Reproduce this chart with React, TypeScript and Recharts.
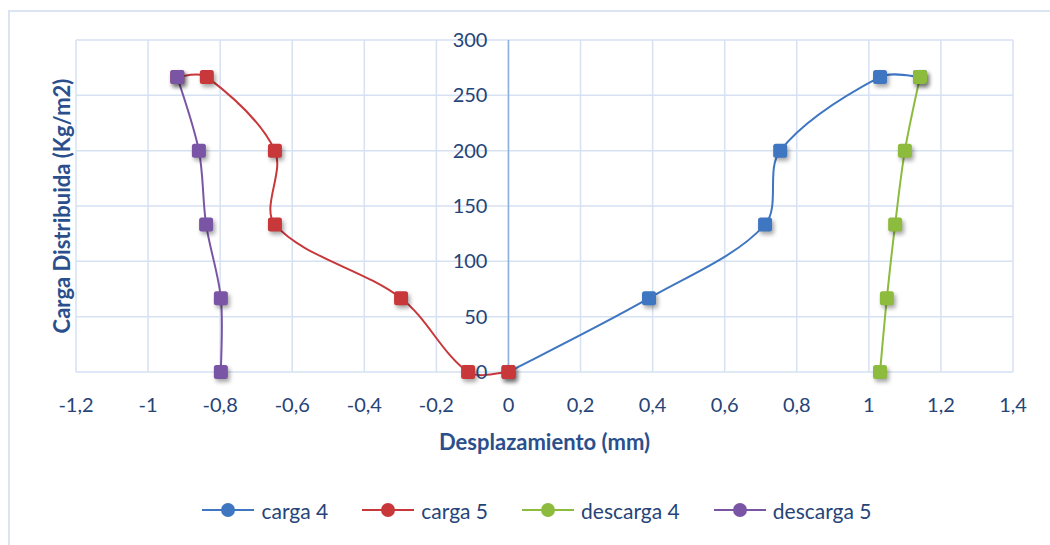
import React from 'react';
import { ComposedChart, Line, XAxis, YAxis, CartesianGrid, ReferenceLine, Label } from 'recharts';

const loadLevels = [0, 66.67, 133.33, 200, 266.67];
const carga4X = [0, 0.39, 0.712, 0.754, 1.031, 1.142];
const carga4Y = [0, 66.67, 133.33, 200, 266.67, 266.67];
const carga5X = [0, -0.112, -0.298, -0.648, -0.648, -0.837, -0.919];
const carga5Y = [0, 0, 66.67, 133.33, 200, 266.67, 266.67];
const descarga4X = [1.031, 1.05, 1.073, 1.1, 1.142];
const descarga5X = [-0.798, -0.798, -0.839, -0.859, -0.919];

const xTicks = [-1.2, -1, -0.8, -0.6, -0.4, -0.2, 0, 0.2, 0.4, 0.6, 0.8, 1, 1.2, 1.4];
const yTicks = [0, 50, 100, 150, 200, 250, 300];
const X_MIN = -1.2;
const X_MAX = 1.4;

const toPoints = (xs: number[], ys: number[]) => xs.map((x, i) => ({ x, y: ys[i] }));

const series = [
  { name: 'carga 4', color: '#3f76c2', data: toPoints(carga4X, carga4Y) },
  { name: 'carga 5', color: '#c8373a', data: toPoints(carga5X, carga5Y) },
  { name: 'descarga 4', color: '#8dbb3e', data: toPoints(descarga4X, loadLevels) },
  { name: 'descarga 5', color: '#7a55a5', data: toPoints(descarga5X, loadLevels) },
];

// Excel-like smoothing: bezier with tangents weighted by segment lengths
function excelCurve(context: any) {
  let pts: number[][] = [];
  const dist = (a: number[], b: number[]) => Math.hypot(b[0] - a[0], b[1] - a[1]);
  return {
    areaStart() {},
    areaEnd() {},
    lineStart() {
      pts = [];
    },
    lineEnd() {
      const n = pts.length;
      if (!n) return;
      context.moveTo(pts[0][0], pts[0][1]);
      for (let i = 0; i < n - 1; i++) {
        const p0 = pts[Math.max(i - 1, 0)];
        const p1 = pts[i];
        const p2 = pts[i + 1];
        const p3 = pts[Math.min(i + 2, n - 1)];
        const d01 = dist(p0, p1);
        const d12 = dist(p1, p2);
        const d23 = dist(p2, p3);
        const f1 = d01 + d12 > 0 ? d12 / (d01 + d12) / 3 : 0;
        const f2 = d12 + d23 > 0 ? d12 / (d12 + d23) / 3 : 0;
        const a = i === 0 ? 1 / 6 : f1;
        const b = i === n - 2 ? 1 / 6 : f2;
        context.bezierCurveTo(
          p1[0] + (p2[0] - p0[0]) * a,
          p1[1] + (p2[1] - p0[1]) * a,
          p2[0] - (p3[0] - p1[0]) * b,
          p2[1] - (p3[1] - p1[1]) * b,
          p2[0],
          p2[1]
        );
      }
    },
    point(x: number, y: number) {
      pts.push([+x, +y]);
    },
  };
}

const W = 1050;
const H = 545;
const margin = { top: 40, right: 37, bottom: 95, left: 75 };
const Y_AXIS_W = 1;
const plotLeft = margin.left + Y_AXIS_W;
const plotW = W - plotLeft - margin.right;
const zeroX = plotLeft + (plotW * (0 - X_MIN)) / (X_MAX - X_MIN);

const TICK_COLOR = '#264478';
const TITLE_COLOR = '#2b4f8c';
const FONT = 'Lato, "Open Sans", sans-serif';

const fmt = (v: number) => String(Math.round(v * 10) / 10).replace('.', ',');

const makeDot = (color: string) => (props: any) => {
  const { cx, cy, index } = props;
  if (cx == null || cy == null) return <g key={index} />;
  return (
    <rect
      key={index}
      x={cx - 7}
      y={cy - 7}
      width={14}
      height={14}
      rx={2.5}
      fill={color}
      style={{ filter: 'drop-shadow(2px 3px 2px rgba(0,0,0,0.35))' }}
    />
  );
};

const YTick = (props: any) => {
  const { y, payload } = props;
  return (
    <text x={zeroX - 21} y={y} dy={7} textAnchor="end" fill={TICK_COLOR} fontSize={20} fontFamily={FONT}>
      {payload.value}
    </text>
  );
};

const YTitle = (p: any) => {
  const vb = p.viewBox || {};
  const cx = 61;
  const cy = (vb.y ?? 40) + (vb.height ?? 332) / 2;
  return (
    <text
      x={cx}
      y={cy}
      transform={`rotate(-90 ${cx} ${cy})`}
      textAnchor="middle"
      dominantBaseline="central"
      fill={TITLE_COLOR}
      fontSize={22}
      fontWeight="bold"
      fontFamily={FONT}
    >
      Carga Distribuida (Kg/m2)
    </text>
  );
};

export default function App() {
  return (
    <div style={{ position: 'absolute', left: 0, top: 0, width: W, height: H, background: '#fff', overflow: 'hidden' }}>
      <div
        style={{
          position: 'absolute',
          left: 8,
          top: 10,
          width: W,
          height: H,
          borderLeft: '2px solid #dbe4f3',
          borderTop: '2px solid #dbe4f3',
        }}
      />
      <div style={{ position: 'absolute', left: 0, top: 0 }}>
        <ComposedChart width={W} height={H} margin={margin}>
          <CartesianGrid stroke="#d6e1f2" strokeWidth={1.5} xAxisId="x" yAxisId="y" />
          <XAxis
            xAxisId="x"
            type="number"
            dataKey="x"
            domain={[X_MIN, X_MAX]}
            ticks={xTicks}
            tickFormatter={fmt}
            axisLine={false}
            tickLine={false}
            tickMargin={20}
            height={78}
            tick={{ fill: TICK_COLOR, fontSize: 20, fontFamily: FONT }}
            allowDataOverflow
          >
            <Label
              value="Desplazamiento (mm)"
              position="insideBottom"
              offset={0}
              fill={TITLE_COLOR}
              fontSize={22}
              fontWeight="bold"
              fontFamily={FONT}
            />
          </XAxis>
          <YAxis
            yAxisId="y"
            type="number"
            dataKey="y"
            domain={[0, 300]}
            ticks={yTicks}
            width={Y_AXIS_W}
            axisLine={false}
            tickLine={false}
            tick={<YTick />}
            label={<YTitle />}
          />
          <ReferenceLine xAxisId="x" yAxisId="y" x={0} stroke="#8eaedc" strokeWidth={1.5} />
          {series.map((s) => (
            <Line
              key={s.name}
              xAxisId="x"
              yAxisId="y"
              data={s.data}
              dataKey="y"
              name={s.name}
              type={excelCurve as any}
              stroke={s.color}
              strokeWidth={2}
              dot={makeDot(s.color)}
              activeDot={false}
              isAnimationActive={false}
            />
          ))}
        </ComposedChart>
      </div>
      <div
        style={{
          position: 'absolute',
          left: 0,
          top: 497,
          width: W,
          display: 'flex',
          justifyContent: 'center',
          paddingLeft: 24,
          boxSizing: 'border-box',
          fontFamily: FONT,
          fontSize: 21,
          color: TICK_COLOR,
        }}
      >
        {series.map((s) => (
          <div key={s.name} style={{ display: 'flex', alignItems: 'center', margin: '0 17px', height: 26 }}>
            <svg width={52} height={16} style={{ marginRight: 7 }}>
              <line x1={0} y1={8} x2={52} y2={8} stroke={s.color} strokeWidth={2} />
              <circle cx={26} cy={8} r={7} fill={s.color} />
            </svg>
            <span>{s.name}</span>
          </div>
        ))}
      </div>
    </div>
  );
}
